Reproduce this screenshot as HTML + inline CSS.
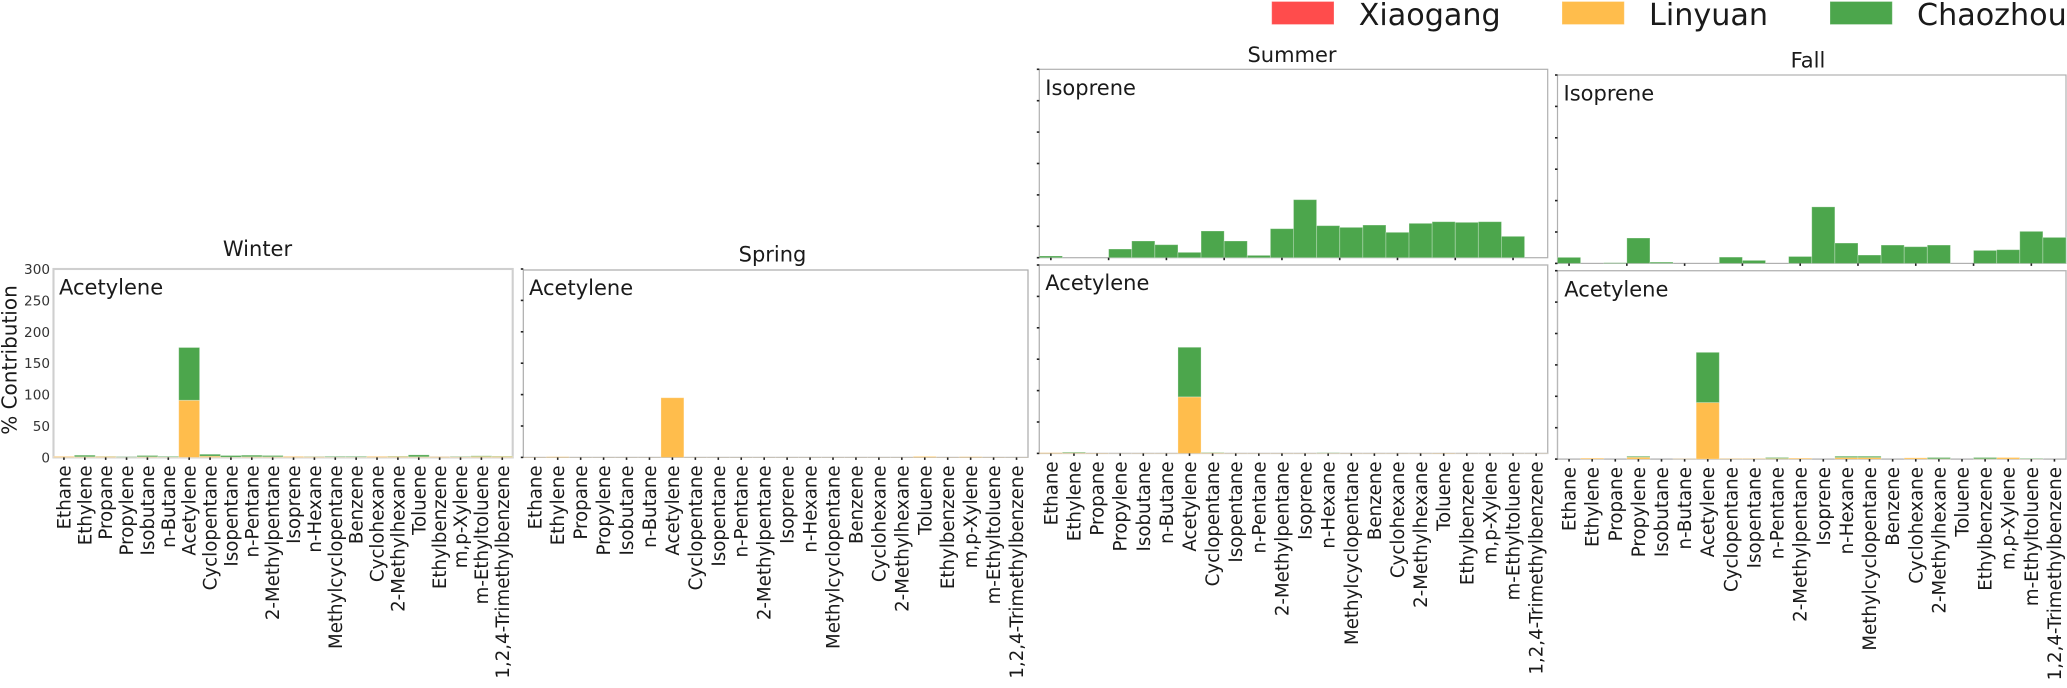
<!DOCTYPE html>
<html lang="en">
<head>
<meta charset="utf-8">
<title>Seasonal VOC contribution</title>
<style>
html,body{margin:0;padding:0;background:#fff;width:2067px;height:688px;overflow:hidden}
svg{display:block;filter:blur(0.35px)}
text{font-family:"DejaVu Sans",sans-serif;fill:#1a1a1a}
</style>
</head>
<body>
<svg id="chart" width="2067" height="688" viewBox="0 0 2067 688" xmlns="http://www.w3.org/2000/svg"></svg>
<script>
const categories = ["Ethane","Ethylene","Propane","Propylene","Isobutane","n-Butane","Acetylene","Cyclopentane","Isopentane","n-Pentane","2-Methylpentane","Isoprene","n-Hexane","Methylcyclopentane","Benzene","Cyclohexane","2-Methylhexane","Toluene","Ethylbenzene","m,p-Xylene","m-Ethyltoluene","1,2,4-Trimethylbenzene"];
const yTickLabels = [0,50,100,150,200,250,300];
const upperTickStops = [0,2.5,5,7.5,10,12.5,15,17.5,20];

const winterLinyuan   = [1.5,1,1.5,0.3,1,0.5,91,2,0.5,1,1,1.5,1.2,0.5,0.5,1.5,1.5,1,1,1,1.5,1.5];
const winterChaozhou  = [0,2.5,0.3,0.7,2,1,84,3,2.5,2.5,2,0,0.3,1,1,0,0.5,3,0,0.5,1,0.5];
const springLinyuan   = [0.3,1,0.2,0.2,0.2,0.2,95,0.2,0.2,0.2,0.2,0.2,0.2,0.2,0.2,0.2,0.2,1.5,0.3,1,0.3,0.2];
const springChaozhou  = [0,0,0,0,0,0,0,0,0,0,0,0,0,0,0,0,0,0,0,0,0,0];
const summerLinyuan   = [1,1,0.5,0.2,0.3,0.3,90,1,0.3,0.3,0.3,0.3,0.5,0.3,0.3,0.3,0.3,0.5,0.2,0.2,0.2,0.2];
const summerChaozhou  = [0,1,0,0,0,0,79,0.5,0,0,0,0,0.5,0,0,0,0,0,0,0,0,0];
const fallLinyuan     = [0,1.5,0,3,0,0.5,90,0.8,0.8,1,1.5,0,2.5,2.5,0,2,0.5,0,0.5,2.5,0.3,0];
const fallChaozhou    = [0,0,0,1.5,0,0,80,0,0,1.5,0,0,2,2,0,0,2,0,2,0,0.7,0];
const summerIsoprene  = [2.7,0,0,13.8,26.6,20.7,8.5,42.5,26.6,3.7,46.2,92.4,51,48.3,52,40.4,54.7,57.3,56.3,57.3,34,0];
const fallIsoprene    = [9.6,0,1,40.4,2,0,0,10,4.8,0,11,90,32.4,13.3,29.2,26.6,29.2,0,20.7,21.8,51,41.4];

const legendNames = ["Xiaogang","Linyuan","Chaozhou"];
const COLORS = {Xiaogang:"#ff4c4c",Linyuan:"#ffbd4c",Chaozhou:"#4ca64c"};
const NS = "http://www.w3.org/2000/svg";
const svg = document.getElementById("chart");
const PX_RANGE = 188.4, Y_MAX = 300;

function add(tag, attrs, parent, txt){
  const el = document.createElementNS(NS, tag);
  for (const k in attrs) el.setAttribute(k, attrs[k]);
  if (txt !== undefined) el.textContent = txt;
  (parent || svg).appendChild(el);
  return el;
}
function yScale(panel, v){ return panel.zero - v * PX_RANGE / Y_MAX; }
function xStep(panel){ return (panel.right - panel.left) / categories.length; }
function xLeft(panel, i){ return panel.left + i * xStep(panel); }
function xCenter(panel, i){ return panel.left + (i + 0.5) * xStep(panel); }

function drawPanel(panel){
  const g = add("g", {}, svg);
  
  

  const frame = add("rect", {x:panel.left, y:panel.top, width:panel.right-panel.left, height:panel.zero-panel.top, fill:"none", stroke:panel.spine, "stroke-width":panel.spineW}, g);
  
  

  panel.series.forEach(function(s){
    let base = new Array(categories.length).fill(0);
    if (s.under) base = s.under;
    s.values.forEach(function(v, i){
      if (v <= 0) return;
      const y0 = yScale(panel, base[i]);
      const y1 = yScale(panel, base[i] + v);
      const bar = add("rect", {x:xLeft(panel,i), y:y1, width:xStep(panel), height:y0-y1, fill:COLORS[s.label], stroke:"#fff", "stroke-opacity":0.3, "stroke-width":0.9}, g);
      
      
    });
  });

  if (panel.yDots) {
    yTickLabels.forEach(function(t){
      const tk = add("line", {x1:panel.left-2.5, x2:panel.left, y1:yScale(panel,t), y2:yScale(panel,t), stroke:"#222", "stroke-width":1.6}, g);
      
      
    });
  }
  if (panel.yLabels) {
    yTickLabels.forEach(function(t){
      const lb = add("text", {x:panel.left-3.5, y:yScale(panel,t)+5, "text-anchor":"end", "font-size":13.6, style:"fill:#333"}, g, String(t));
      
      
    });
  }
  const stops = panel.upper ? upperTickStops : categories.map(function(c,i){return i;});
  stops.forEach(function(s){
    const x = xCenter(panel, s);
    const tk = add("line", {x1:x, x2:x, y1:panel.zero, y2:panel.zero+2.5, stroke:"#222", "stroke-width":1.6}, g);
    
    
  });
  if (!panel.upper) {
    categories.forEach(function(c,i){
      const x = xCenter(panel, i) + 6.5;
      const y = panel.zero + 8;
      const lb = add("text", {x:x, y:y, "text-anchor":"end", "font-size":18.2, transform:"rotate(-90 "+x+" "+y+")"}, g, c);
      
      
    });
  }
  const note = add("text", {x:panel.noteX, y:panel.noteY, "font-size":21}, g, panel.note);
  
  
}

const panels = [
  {name:"winter-panel", left:53.5, right:512.7, top:269, zero:457.4, spine:"#cfcfcf", spineW:2.1, yLabels:true, yDots:false, note:"Acetylene", noteX:59, noteY:294.5,
   series:[{label:"Linyuan", values:winterLinyuan},{label:"Chaozhou", values:winterChaozhou, under:winterLinyuan}]},
  {name:"spring-panel", left:523.3, right:1028, top:270, zero:457.4, spine:"#ababab", spineW:1.2, yDots:true, note:"Acetylene", noteX:529, noteY:295,
   series:[{label:"Linyuan", values:springLinyuan},{label:"Chaozhou", values:springChaozhou, under:springLinyuan}]},
  {name:"summer-lower-panel", left:1039.3, right:1547.7, top:265, zero:453.4, spine:"#b8b8b8", spineW:1.4, yDots:true, note:"Acetylene", noteX:1045.3, noteY:290,
   series:[{label:"Linyuan", values:summerLinyuan},{label:"Chaozhou", values:summerChaozhou, under:summerLinyuan}]},
  {name:"summer-upper-panel", upper:true, left:1039.3, right:1547.7, top:69.3, zero:257.7, spine:"#b0b0b0", spineW:1.2, yDots:true, note:"Isoprene", noteX:1045.3, noteY:95,
   series:[{label:"Chaozhou", values:summerIsoprene}]},
  {name:"fall-lower-panel", left:1557.5, right:2066, top:270.7, zero:459.1, spine:"#b8b8b8", spineW:1.4, yDots:true, note:"Acetylene", noteX:1564.3, noteY:296.5,
   series:[{label:"Linyuan", values:fallLinyuan},{label:"Chaozhou", values:fallChaozhou, under:fallLinyuan}]},
  {name:"fall-upper-panel", upper:true, left:1557.5, right:2066, top:75, zero:263.4, spine:"#b0b0b0", spineW:1.2, yDots:true, note:"Isoprene", noteX:1563.5, noteY:100.7,
   series:[{label:"Chaozhou", values:fallIsoprene}]}
];
panels.forEach(drawPanel);

const seasonTitles = [["Winter",257.5,256],["Spring",772.5,261.5],["Summer",1292,62],["Fall",1808,67.5]];
seasonTitles.forEach(function(t){
  const el = add("text", {x:t[1], y:t[2], "text-anchor":"middle", "font-size":21}, svg, t[0]);
  
  
});

const yTitle = add("text", {x:16.5, y:360, "text-anchor":"middle", "font-size":20, transform:"rotate(-90 16.5 360)"}, svg, "% Contribution");



const legendSwatchX = [1271.7,1562,1830];
const legendTextX = [1358.7,1649,1917];
legendNames.forEach(function(n,i){
  const g = add("g", {}, svg);
  
  
  const sw = add("rect", {x:legendSwatchX[i], y:1.5, width:62.3, height:23, fill:COLORS[n], stroke:"#fff", "stroke-opacity":0.3, "stroke-width":0.9}, g);
  
  
  const tx = add("text", {x:legendTextX[i], y:25, "font-size":30.2}, g, n);
  
  
});
</script>
</body>
</html>
